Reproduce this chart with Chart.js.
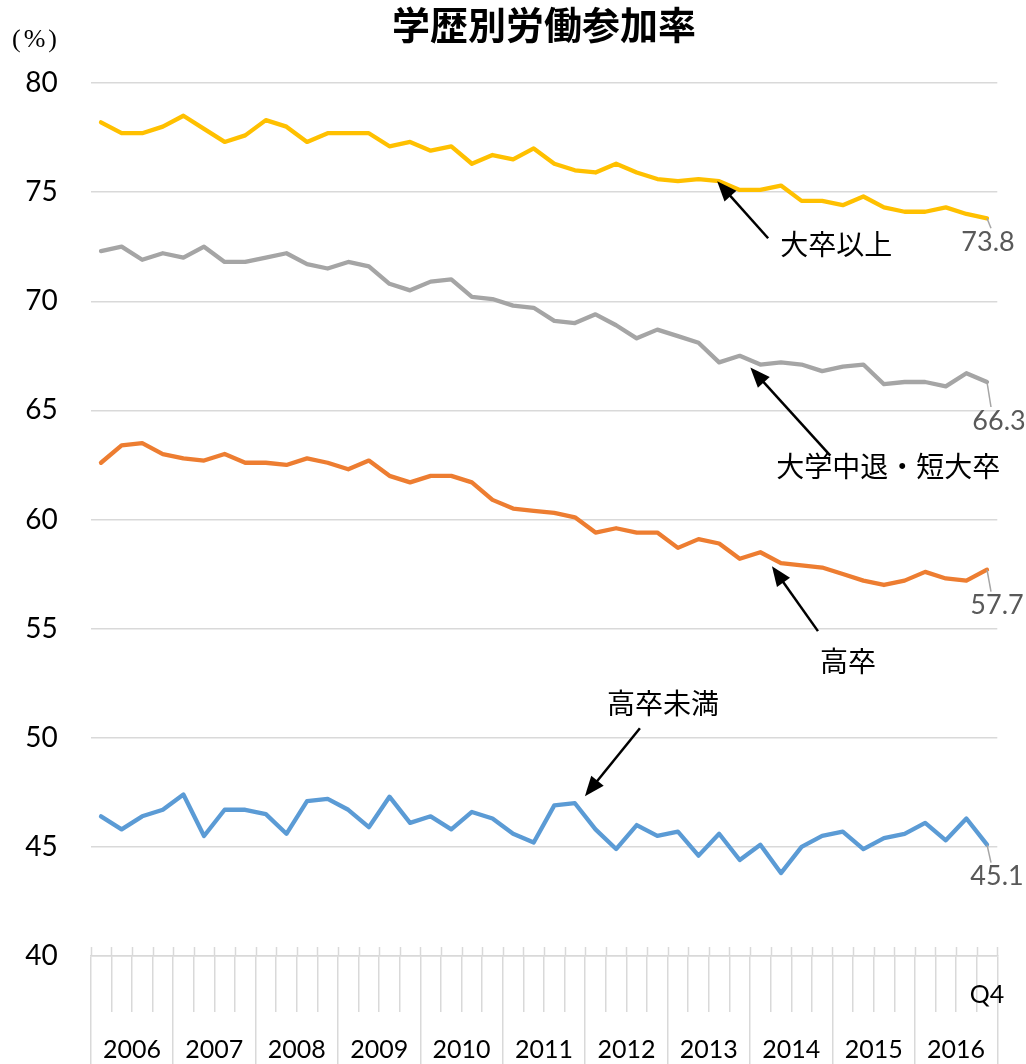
<!DOCTYPE html>
<html lang="ja">
<head>
<meta charset="utf-8">
<title>学歴別労働参加率</title>
<script src="https://cdn.jsdelivr.net/npm/chart.js@4.4.1/dist/chart.umd.min.js"></script>
<style>
  html, body { margin: 0; padding: 0; background: #fff; }
  canvas { display: block; }
</style>
</head>
<body>
<canvas id="chart" width="1026" height="1064"></canvas>
<script>
// 四半期データ 2006Q1〜2016Q4
const years = ['2006', '2007', '2008', '2009', '2010', '2011', '2012', '2013', '2014', '2015', '2016'];
const quarterNames = ['Q1', 'Q2', 'Q3', 'Q4'];
const quarterLabels = years.flatMap(() => quarterNames);

const seriesNames = ['大卒以上', '大学中退・短大卒', '高卒', '高卒未満'];

const univ = [78.2, 77.7, 77.7, 78.0, 78.5, 77.9, 77.3, 77.6, 78.3, 78.0, 77.3, 77.7, 77.7, 77.7, 77.1, 77.3,
  76.9, 77.1, 76.3, 76.7, 76.5, 77.0, 76.3, 76.0, 75.9, 76.3, 75.9, 75.6, 75.5, 75.6, 75.5, 75.1,
  75.1, 75.3, 74.6, 74.6, 74.4, 74.8, 74.3, 74.1, 74.1, 74.3, 74.0, 73.8];
const junior = [72.3, 72.5, 71.9, 72.2, 72.0, 72.5, 71.8, 71.8, 72.0, 72.2, 71.7, 71.5, 71.8, 71.6, 70.8, 70.5,
  70.9, 71.0, 70.2, 70.1, 69.8, 69.7, 69.1, 69.0, 69.4, 68.9, 68.3, 68.7, 68.4, 68.1, 67.2, 67.5,
  67.1, 67.2, 67.1, 66.8, 67.0, 67.1, 66.2, 66.3, 66.3, 66.1, 66.7, 66.3];
const high = [62.6, 63.4, 63.5, 63.0, 62.8, 62.7, 63.0, 62.6, 62.6, 62.5, 62.8, 62.6, 62.3, 62.7, 62.0, 61.7,
  62.0, 62.0, 61.7, 60.9, 60.5, 60.4, 60.3, 60.1, 59.4, 59.6, 59.4, 59.4, 58.7, 59.1, 58.9, 58.2,
  58.5, 58.0, 57.9, 57.8, 57.5, 57.2, 57.0, 57.2, 57.6, 57.3, 57.2, 57.7];
const belowHigh = [46.4, 45.8, 46.4, 46.7, 47.4, 45.5, 46.7, 46.7, 46.5, 45.6, 47.1, 47.2, 46.7, 45.9, 47.3, 46.1,
  46.4, 45.8, 46.6, 46.3, 45.6, 45.2, 46.9, 47.0, 45.8, 44.9, 46.0, 45.5, 45.7, 44.6, 45.6, 44.4,
  45.1, 43.8, 45.0, 45.5, 45.7, 44.9, 45.4, 45.6, 46.1, 45.3, 46.3, 45.1];

const colors = ['#FFC000', '#A5A5A5', '#ED7D31', '#5B9BD5'];

const JP = "'Noto Sans CJK JP', sans-serif";
const NUM = "Lato, 'Noto Sans', sans-serif";

// 矢印つき注記: どの系列のどの点を指すか
const notes = [
  { ds: 0, idx: 30, tip: [-2, 0], tail: [51, 57], text: [119, 63] },
  { ds: 1, idx: 32, tip: [-10, 3], tail: [80, 88], text: [138, 99] },
  { ds: 2, idx: 33, tip: [-9, 3], tail: [46, 65], text: [76, 95] },
  { ds: 3, idx: 23, tip: [10, -7], tail: [55, -68], text: [78, -93] }
];
// 最終値ラベルの位置 (最終点からのずれ)
const endLabelOffsets = [[1, 24], [12, 39], [10, 36], [10, 32]];

function drawArrow(ctx, x1, y1, x2, y2) {
  const ang = Math.atan2(y2 - y1, x2 - x1);
  const head = 20, half = 8;
  ctx.strokeStyle = '#000';
  ctx.fillStyle = '#000';
  ctx.lineWidth = 2.5;
  ctx.beginPath();
  ctx.moveTo(x1, y1);
  ctx.lineTo(x2 - Math.cos(ang) * head * 0.8, y2 - Math.sin(ang) * head * 0.8);
  ctx.stroke();
  ctx.beginPath();
  ctx.moveTo(x2, y2);
  ctx.lineTo(x2 - Math.cos(ang) * head - Math.sin(ang) * half, y2 - Math.sin(ang) * head + Math.cos(ang) * half);
  ctx.lineTo(x2 - Math.cos(ang) * head + Math.sin(ang) * half, y2 - Math.sin(ang) * head - Math.cos(ang) * half);
  ctx.closePath();
  ctx.fill();
}

const annotate = {
  id: 'annotate',
  afterDraw(chart) {
    const ctx = chart.ctx;
    const xs = chart.scales.x;
    ctx.save();

    // 軸の上に少し出る目盛り線
    const step = (xs.right - xs.left) / quarterLabels.length;
    ctx.strokeStyle = '#D9D9D9';
    ctx.lineWidth = 1.5;
    for (let i = 0; i <= quarterLabels.length; i++) {
      const x = Math.round(xs.left + i * step) + 0.5;
      ctx.beginPath();
      ctx.moveTo(x, xs.top - 9);
      ctx.lineTo(x, xs.top);
      ctx.stroke();
    }

    // 単位
    ctx.font = "26px 'Liberation Serif', serif";
    ctx.fillStyle = '#000';
    ctx.textAlign = 'center';
    ctx.textBaseline = 'middle';
    ctx.letterSpacing = '3px';
    ctx.fillText('(%)', 36, 40);
    ctx.letterSpacing = '0px';

    // 最終値ラベル
    chart.data.datasets.forEach((ds, i) => {
      const meta = chart.getDatasetMeta(i);
      const pt = meta.data[meta.data.length - 1];
      const [dx, dy] = endLabelOffsets[i];
      const lx = pt.x + dx, ly = pt.y + dy;
      ctx.strokeStyle = '#A5A5A5';
      ctx.lineWidth = 1.5;
      ctx.beginPath();
      ctx.moveTo(pt.x, pt.y);
      ctx.lineTo(pt.x + 4, ly - 14);
      ctx.stroke();
      ctx.font = '27px ' + NUM;
      ctx.fillStyle = '#595959';
      ctx.textAlign = 'center';
      ctx.textBaseline = 'middle';
      ctx.fillText(ds.data[ds.data.length - 1].toFixed(1), lx, ly);
    });

    // 系列名と矢印
    notes.forEach(n => {
      const pt = chart.getDatasetMeta(n.ds).data[n.idx];
      const tx = pt.x + n.tip[0], ty = pt.y + n.tip[1];
      drawArrow(ctx, tx + n.tail[0], ty + n.tail[1], tx, ty);
      ctx.font = '28px ' + JP;
      ctx.fillStyle = '#000';
      ctx.textAlign = 'center';
      ctx.textBaseline = 'middle';
      ctx.fillText(seriesNames[n.ds], tx + n.text[0], ty + n.text[1]);
    });

    ctx.restore();
  }
};

new Chart(document.getElementById('chart'), {
  type: 'line',
  data: {
    labels: quarterLabels,
    datasets: [univ, junior, high, belowHigh].map((d, i) => ({
      label: seriesNames[i],
      data: d,
      borderColor: colors[i],
      backgroundColor: colors[i],
      borderWidth: 4.3,
      pointRadius: 0,
      tension: 0,
      fill: false,
      xAxisID: 'x',
      yAxisID: 'y'
    }))
  },
  options: {
    responsive: false,
    animation: false,
    layout: { padding: { left: 0, right: 28.7, top: 0, bottom: 0 } },
    elements: { line: { borderJoinStyle: 'round', borderCapStyle: 'round' } },
    plugins: {
      legend: { display: false },
      tooltip: { enabled: false },
      title: {
        display: true,
        fullSize: false,
        text: '学歴別労働参加率',
        color: '#000',
        font: { family: JP, size: 38, weight: 'bold', lineHeight: 1.2 },
        padding: { top: 2, bottom: 35.4 }
      }
    },
    scales: {
      x: {
        type: 'category',
        position: 'bottom',
        weight: 1,
        offset: true,
        grid: { offset: true, drawOnChartArea: false, drawTicks: true, tickLength: 56, color: '#D9D9D9', lineWidth: 1.5 },
        border: { display: true, color: '#D9D9D9', width: 1.5 },
        ticks: {
          autoSkip: false,
          maxRotation: 0,
          padding: -32,
          color: '#000',
          font: { family: NUM, size: 25 },
          callback: function (value, index) {
            return index === quarterLabels.length - 1 ? this.getLabelForValue(value) : '';
          }
        },
        afterFit: s => { s.height = 56; }
      },
      x2: {
        type: 'category',
        position: 'bottom',
        weight: 2,
        labels: years,
        offset: true,
        grid: { offset: true, drawOnChartArea: false, drawTicks: true, tickLength: 52, color: '#D9D9D9', lineWidth: 1.5 },
        border: { display: false },
        ticks: {
          autoSkip: false,
          maxRotation: 0,
          padding: -29,
          color: '#000',
          font: { family: NUM, size: 25 }
        },
        afterFit: s => { s.height = 52; }
      },
      y: {
        min: 40,
        max: 80,
        ticks: { stepSize: 5, padding: 33, color: '#000', font: { family: NUM, size: 28 } },
        grid: { color: '#D9D9D9', lineWidth: 1.5, drawTicks: false },
        border: { display: false },
        afterFit: s => { s.width = 90.7; }
      }
    }
  },
  plugins: [annotate]
});
</script>
</body>
</html>
